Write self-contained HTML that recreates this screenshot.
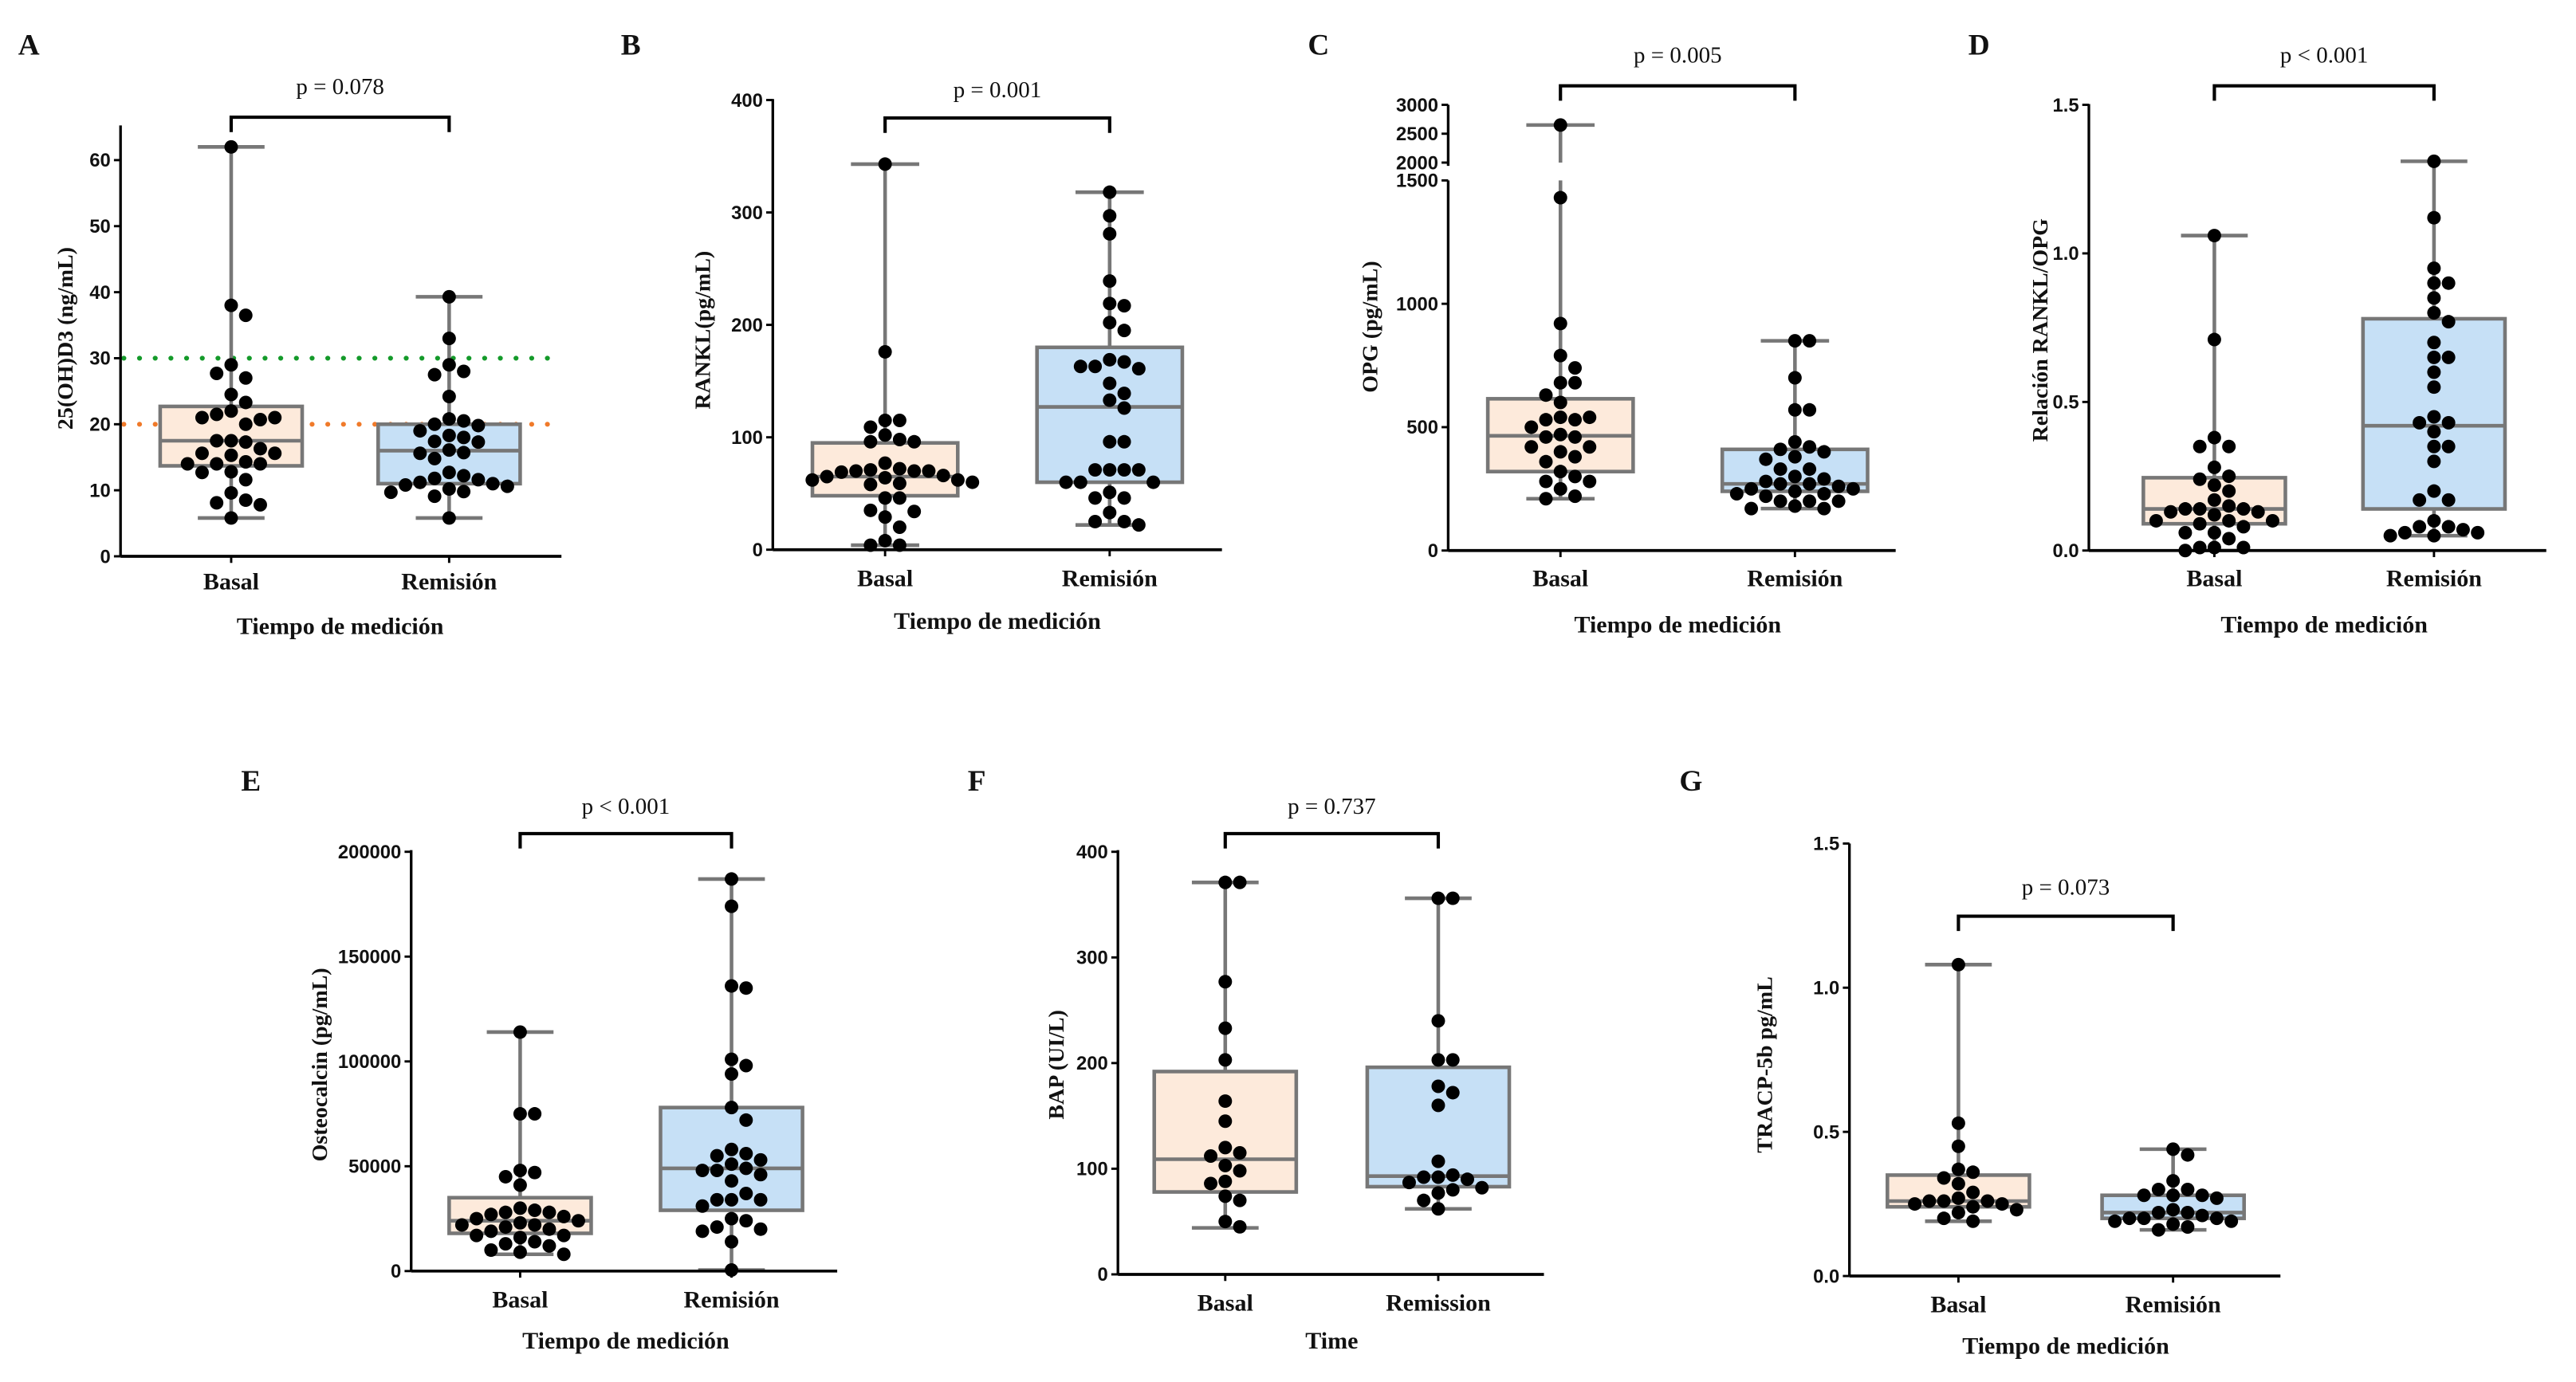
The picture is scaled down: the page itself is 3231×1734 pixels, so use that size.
<!DOCTYPE html>
<html><head><meta charset="utf-8"><style>
html,body{margin:0;padding:0;background:#fff;}
svg{display:block;}
.tk{font-family:"Liberation Sans",sans-serif;font-weight:bold;font-size:11.5px;fill:#111;}
.sr{font-family:"Liberation Serif",serif;fill:#111;}
</style></head><body>
<svg id="fig" xmlns="http://www.w3.org/2000/svg" width="3231" height="1734" viewBox="0 0 1560 837.2" preserveAspectRatio="none"></svg>
<script>
// ---- data ----
const categoriesSpanish = ["Basal","Remisión"];
const categoriesEnglish = ["Basal","Remission"];
// A 25(OH)D3
const aBasal = [62,38,36.5,29,27,27.7,24.5,23.3,22,21.5,20,20.7,21,21,17.5,17.3,17.5,16.3,15.6,15.6,15.3,14.3,14,14,14,12.8,12.7,11.6,9.6,8.5,8.1,7.8,5.8];
const aRemision = [39.3,33,29,28,27.5,24.2,20.8,20.5,20,19.8,19,18.3,18,17.4,17.3,16.1,15.7,15.6,14.8,12.7,12.2,11.8,11.6,11.2,11,10.8,10.6,10.2,9.8,9.7,9.1,5.8];
const aBoxBasal = [5.8,13.7,17.5,22.7,62];
const aBoxRemision = [5.8,11,16,20,39.3];
const aTicks = [0,10,20,30,40,50,60];
const aRefLines = [30,20];
// B RANKL
const bBasal = [343,176,115,115,109,102,98,96,96,77,72,71,70,70,70,69,66,65,64,62,62,60,59,58,46,46,35,34,29,20,8,4,4];
const bRemision = [318,297,281,239,219,217,202,195,169,167,163,161,163,148,139,133,126,96,96,71,71,71,71,60,60,60,51,46,46,33,25,25,22];
const bBoxBasal = [4,48,65,95,343];
const bBoxRemision = [22,60,127,180,318];
const bTicks = [0,100,200,300,400];
// C OPG
const cBasal = [2650,1430,920,790,740,680,680,630,600,540,530,530,540,500,470,460,460,420,420,400,380,360,320,300,280,280,250,220,210];
const cRemision = [850,850,700,570,570,440,420,410,400,380,370,330,330,300,290,280,270,270,260,250,250,240,230,230,220,200,200,200,180,170,170];
const cBoxBasal = [210,320,465,615,2650];
const cBoxRemision = [170,240,270,410,850];
const cTicks = [0,500,1000,1500,2000,2500,3000];
// D RANKL/OPG
const dBasal = [1.06,.71,.38,.35,.35,.28,.25,.24,.22,.2,.17,.15,.14,.14,.14,.13,.13,.12,.1,.1,.1,.09,.08,.06,.06,.04,.01,.01,.01,0];
const dRemision = [1.31,1.12,.95,.9,.9,.85,.8,.77,.7,.65,.65,.6,.55,.45,.43,.43,.4,.35,.35,.3,.2,.17,.17,.1,.08,.08,.07,.06,.06,.05,.05];
const dBoxBasal = [0,.09,.14,.245,1.06];
const dBoxRemision = [.05,.14,.42,.78,1.31];
const dTicks = [0,0.5,1.0,1.5];
// E Osteocalcin
const eBasal = [114000,75000,75000,48000,47000,45000,41000,30000,29000,28000,28000,27000,26000,25000,24000,23000,22000,22000,21000,20000,19000,17000,17000,16000,14000,13000,12000,10000,9000,8000];
const eRemision = [187000,174000,136000,135000,101000,98000,94000,78000,72000,58000,56000,55000,53000,51000,49000,48000,48000,46000,43000,37000,34000,34000,34000,31000,25000,24000,21000,20000,19000,14000,500];
const eBoxBasal = [8000,18000,24000,35000,114000];
const eBoxRemision = [500,29000,49000,78000,187000];
const eTicks = [0,50000,100000,150000,200000];
// F BAP
const fBasal = [371,371,277,233,203,164,145,120,115,112,103,98,88,86,74,70,50,45];
const fRemision = [356,356,240,203,203,178,172,160,107,94,92,92,90,87,82,80,77,70,62];
const fBoxBasal = [44,78,109,192,371];
const fBoxRemision = [62,83,93,196,356];
const fTicks = [0,100,200,300,400];
// G TRACP-5b
const gBasal = [1.08,.53,.45,.37,.36,.34,.32,.29,.27,.26,.26,.26,.25,.25,.24,.23,.22,.2,.19];
const gRemision = [.44,.42,.33,.3,.3,.28,.28,.28,.27,.23,.22,.22,.21,.2,.2,.2,.19,.19,.18,.17,.16];
const gBoxBasal = [.19,.24,.26,.35,1.08];
const gBoxRemision = [.16,.2,.22,.28,.44];
const gTicks = [0,0.5,1.0,1.5];
const pValues = ["p = 0.078","p = 0.001","p = 0.005","p < 0.001","p < 0.001","p = 0.737","p = 0.073"];

const NS="http://www.w3.org/2000/svg";
const svg=document.getElementById('fig');
function el(tag,attrs,parent,text){const e=document.createElementNS(NS,tag);for(const k in attrs)e.setAttribute(k,attrs[k]);if(text!==undefined)e.textContent=text;(parent||svg).appendChild(e);return e;}

function linScale(v0,p0,v1,p1){return v=>p0+(v-v0)*(p1-p0)/(v1-v0);}

function panel(cfg){
  const g=el('g',{});
  
  
  const y=cfg.y;
  const L=el('text',{x:cfg.letter[0],y:cfg.letter[1],class:'sr','font-weight':'bold','font-size':18},g,cfg.id);
  
  if(cfg.refs){cfg.refs.forEach((r,i)=>{const l=el('line',{x1:cfg.ax+2,x2:cfg.xEnd,y1:y(r),y2:y(r),stroke:i==0?'#149a2a':'#f07a2a','stroke-width':3,'stroke-dasharray':'0 9.5','stroke-linecap':'round'},g);
    });}
  const boxes=[cfg.boxB,cfg.boxR], pts=[cfg.ptsB,cfg.ptsR], fills=['#fdeadb','#c6e0f6'];
  boxes.forEach((b,i)=>{
    const cx=cfg.cats[i], h=cfg.half;
    const bg=el('g',{},g);
    
    const st={stroke:'#777','stroke-width':2.2,fill:'none'};
    const cw=h*0.47;
    if(cfg.broken && b[4]>1500){
      el('line',Object.assign({x1:cx,x2:cx,y1:y(b[3]),y2:y(1500)},st),bg);
      el('line',Object.assign({x1:cx,x2:cx,y1:y(2000),y2:y(b[4])},st),bg);
    } else el('line',Object.assign({x1:cx,x2:cx,y1:y(b[3]),y2:y(b[4])},st),bg);
    el('line',Object.assign({x1:cx,x2:cx,y1:y(b[0]),y2:y(b[1])},st),bg);
    el('line',Object.assign({x1:cx-cw,x2:cx+cw,y1:y(b[4]),y2:y(b[4])},st),bg);
    el('line',Object.assign({x1:cx-cw,x2:cx+cw,y1:y(b[0]),y2:y(b[0])},st),bg);
    el('rect',{x:cx-h,y:y(b[3]),width:2*h,height:y(b[1])-y(b[3]),fill:fills[i],stroke:'#777','stroke-width':2.2},bg);
    el('line',Object.assign({x1:cx-h,x2:cx+h,y1:y(b[2]),y2:y(b[2])},st),bg);
  });
  const r=4.1;
  pts.forEach((arr,i)=>{
    const cx=cfg.cats[i]; const placed=[];
    const pg=el('g',{},g);
    
    arr.forEach(v=>{
      const py=y(v); let k=0,px=cx;
      while(true){const off=(k%2?1:-1)*Math.ceil(k/2)*r*2.15; px=cx+off;
        if(!placed.some(p=>Math.hypot(p[0]-px,p[1]-py)<r*2.1)) break; k++; if(k>30)break;}
      placed.push([px,py]);
      const c=el('circle',{cx:px,cy:py,r:r,fill:'#000'},pg);
      
    });
  });
  const axg=el('g',{},g);
  if(cfg.broken){
    el('line',{x1:cfg.ax,x2:cfg.ax,y1:cfg.y0,y2:y(1500),stroke:'#000','stroke-width':1.6},axg);
    el('line',{x1:cfg.ax,x2:cfg.ax,y1:y(2000)+2,y2:y(3000),stroke:'#000','stroke-width':1.6},axg);
  } else el('line',{x1:cfg.ax,x2:cfg.ax,y1:cfg.y0,y2:cfg.top,stroke:'#000','stroke-width':1.6},axg);
  cfg.ticks.forEach(t=>{
    el('line',{x1:cfg.ax-4,x2:cfg.ax,y1:y(t),y2:y(t),stroke:'#000','stroke-width':1.4},axg);
    const tx=el('text',{x:cfg.ax-6,y:y(t)+4,class:'tk','text-anchor':'end','font-size':cfg.tfs||12},axg,cfg.fmt?cfg.fmt(t):String(t));
    
  });
  const xg=el('g',{},g);
  el('line',{x1:cfg.ax,x2:cfg.xEnd,y1:cfg.y0,y2:cfg.y0,stroke:'#000','stroke-width':1.8},xg);
  cfg.cats.forEach((cx,i)=>{
    el('line',{x1:cx,x2:cx,y1:cfg.y0,y2:cfg.y0+4,stroke:'#000','stroke-width':1.4},xg);
    const t=el('text',{x:cx,y:cfg.catY,class:'sr','font-weight':'bold','font-size':14.5,'text-anchor':'middle'},xg,cfg.cat[i]);
    
  });
  const xt=el('text',{x:(cfg.cats[0]+cfg.cats[1])/2,y:cfg.titleY,class:'sr','font-weight':'bold','font-size':14.5,'text-anchor':'middle'},g,cfg.xTitle);
  
  const yt=el('text',{x:0,y:0,class:'sr','font-weight':'bold','font-size':13.5,'text-anchor':'middle',transform:`translate(${cfg.ylx},${cfg.yly}) rotate(-90)`},g,cfg.yTitle);
  
  const bk=el('path',{d:`M${cfg.cats[0]},${cfg.brY+9} V${cfg.brY} H${cfg.cats[1]} V${cfg.brY+9}`,fill:'none',stroke:'#000','stroke-width':2},g);
  
  const pt=el('text',{x:(cfg.cats[0]+cfg.cats[1])/2,y:cfg.pY+5,class:'sr','font-size':14,'text-anchor':'middle'},g,cfg.p);
  
}

const tit="Tiempo de medición";
panel({id:'A',letter:[11,33],ax:73,y0:337,top:76,xEnd:340,y:linScale(0,337,60,97),cats:[140,272],half:43,ticks:aTicks,refs:aRefLines,
  boxB:aBoxBasal,boxR:aBoxRemision,ptsB:aBasal,ptsR:aRemision,cat:categoriesSpanish,catY:357,titleY:384,xTitle:tit,yTitle:"25(OH)D3 (ng/mL)",ylx:44,yly:205,brY:71,pY:52,p:pValues[0]});
panel({id:'B',letter:[376,33],ax:468,y0:333,top:60,xEnd:740,y:linScale(0,333,400,60.6),cats:[536,672],half:44,ticks:bTicks,
  boxB:bBoxBasal,boxR:bBoxRemision,ptsB:bBasal,ptsR:bRemision,cat:categoriesSpanish,catY:355,titleY:381,xTitle:tit,yTitle:"RANKL(pg/mL)",ylx:430,yly:200,brY:71.5,pY:54,p:pValues[1]});
const cLow=linScale(0,333.5,1500,109.3), cHigh=linScale(2000,98.5,3000,63.5);
panel({id:'C',letter:[792,33],ax:877,y0:333.5,top:63,xEnd:1148,y:v=>v<=1500?cLow(v):(v<2000?cLow(1500)-(v-1500)/500*(cLow(1500)-cHigh(2000)):cHigh(v)),broken:true,cats:[945,1087],half:44,ticks:cTicks,tfs:11,
  boxB:cBoxBasal,boxR:cBoxRemision,ptsB:cBasal,ptsR:cRemision,cat:categoriesSpanish,catY:355,titleY:383,xTitle:tit,yTitle:"OPG (pg/mL)",ylx:834,yly:198,brY:52,pY:33,p:pValues[2]});
panel({id:'D',letter:[1192,33],ax:1265,y0:333.5,top:63,xEnd:1542,y:linScale(0,333.5,1.5,63.5),cats:[1341,1474],half:43,ticks:dTicks,tfs:11,fmt:t=>t.toFixed(1),
  boxB:dBoxBasal,boxR:dBoxRemision,ptsB:dBasal,ptsR:dRemision,cat:categoriesSpanish,catY:355,titleY:383,xTitle:tit,yTitle:"Relación RANKL/OPG",ylx:1240,yly:200,brY:52,pY:33,p:pValues[3]});
panel({id:'E',letter:[146,479],ax:249,y0:770,top:515,xEnd:507,y:linScale(0,770,200000,516),cats:[315,443],half:43,ticks:eTicks,tfs:10.5,
  boxB:eBoxBasal,boxR:eBoxRemision,ptsB:eBasal,ptsR:eRemision,cat:categoriesSpanish,catY:792,titleY:817,xTitle:tit,yTitle:"Osteocalcin (pg/mL)",ylx:198,yly:645,brY:505,pY:488,p:pValues[4]});
panel({id:'F',letter:[586,479],ax:677,y0:772,top:515,xEnd:935,y:linScale(0,772,400,516),cats:[742,871],half:43,ticks:fTicks,tfs:11,
  boxB:fBoxBasal,boxR:fBoxRemision,ptsB:fBasal,ptsR:fRemision,cat:categoriesEnglish,catY:794,titleY:817,xTitle:"Time",yTitle:"BAP (UI/L)",ylx:644,yly:645,brY:505,pY:488,p:pValues[5]});
panel({id:'G',letter:[1017,479],ax:1120,y0:773,top:511,xEnd:1381,y:linScale(0,773,1.5,511),cats:[1186,1316],half:43,ticks:gTicks,fmt:t=>t.toFixed(1),
  boxB:gBoxBasal,boxR:gBoxRemision,ptsB:gBasal,ptsR:gRemision,cat:categoriesSpanish,catY:795,titleY:820,xTitle:tit,yTitle:"TRACP-5b pg/mL",ylx:1073,yly:645,brY:555,pY:537,p:pValues[6]});
</script>
</body></html>
